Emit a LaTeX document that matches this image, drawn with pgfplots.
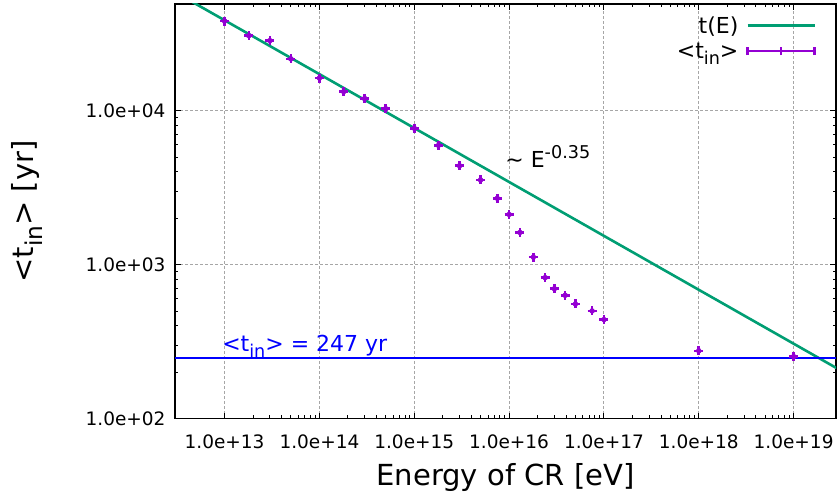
\documentclass[border=0pt]{standalone}
\usepackage{fontspec}
\setmainfont{DejaVu Sans}
\usepackage{pgfplots}
\usepackage{pgfplotstable}
\pgfplotsset{compat=1.18}
\definecolor{tgreen}{HTML}{009E73}
\definecolor{tviolet}{HTML}{9400D3}
\definecolor{tblue}{HTML}{0000FF}
\newcommand\gsub[1]{\raisebox{-0.28em}{\scalebox{0.8}{#1}}}
\newcommand\gsup[1]{\raisebox{0.42em}{\scalebox{0.8}{#1}}}

\pgfplotstableread{
E t
1e13 3.82e4
1.8e13 3.07e4
3e13 2.85e4
5e13 2.17e4
1e14 1.63e4
1.8e14 1.33e4
3e14 1.20e4
5e14 1.03e4
1e15 7.69e3
1.8e15 5.96e3
3e15 4.39e3
5e15 3.55e3
7.5e15 2.70e3
1e16 2.12e3
1.3e16 1.62e3
1.8e16 1.12e3
2.4e16 824
3e16 698
3.9e16 633
5e16 556
7.5e16 501
1e17 440
1e18 276
1e19 253
}\tintable

\begin{document}
\begin{tikzpicture}
\begin{axis}[
  xmode=log, ymode=log,
  scale only axis, width=661bp, height=414.7bp,
  xmin=3e12, xmax=2.8e19, ymin=100, ymax=4.93e4,
  xtick={1e13,1e14,1e15,1e16,1e17,1e18,1e19},
  xticklabels={1.0e+13,1.0e+14,1.0e+15,1.0e+16,1.0e+17,1.0e+18,1.0e+19},
  ytick={1e2,1e3,1e4},
  yticklabels={1.0e+02,1.0e+03,1.0e+04},
  tick label style={font=\fontsize{18.5bp}{22bp}\selectfont},
  xticklabel style={yshift=-13bp},
  yticklabel style={xshift=-6bp},
  major tick length=6bp, minor tick length=3.5bp,
  tick style={black, line width=1bp},
  axis line style={line width=1.3bp},
  grid=major,
  major grid style={gray!70, dash pattern=on 2.5bp off 2.5bp, line width=0.9bp},
  xlabel={Energy of CR [eV]},
  ylabel={<t\gsub{in}> [yr]},
  every axis x label/.style={at={(axis description cs:0.5,-0.162)}, anchor=base, font=\fontsize{29bp}{34bp}\selectfont},
  every axis y label/.style={at={(axis description cs:-0.224,0.5)}, anchor=center, rotate=90, font=\fontsize{29bp}{34bp}\selectfont},
  legend style={draw=none, fill=none, at={(axis description cs:0.9745,0.98)}, anchor=north east,
    font=\fontsize{22bp}{26bp}\selectfont, row sep=4bp, column sep=6bp},
  legend cell align=right,
  legend plot pos=right,
]
\addplot[tgreen, line width=2.6bp,
  legend image code/.code={\draw[tgreen, line width=2.6bp] (0bp,0bp) -- (67bp,0bp);}]
  coordinates {(3e12,5.89e4) (3e19,209)};
\addlegendentry{t(E)}
\addplot[only marks, mark=+, mark size=4.5bp, tviolet, line width=2.6bp,
  legend image code/.code={\draw[tviolet, line width=2.6bp] (0bp,0bp) -- (67bp,0bp) (0bp,-4bp) -- (0bp,4bp) (33.5bp,-4bp) -- (33.5bp,4bp) (67bp,-4bp) -- (67bp,4bp);}]
  table[x=E, y=t] {\tintable};
\addlegendentry{<t\gsub{in}>}
\addplot[forget plot, only marks, mark=*, mark size=2.5bp, tviolet] table[x=E, y=t] {\tintable};
\addplot[forget plot, tblue, line width=2.2bp] coordinates {(3e12,247) (2.8e19,247)};
\node[anchor=base west, inner sep=0pt, text=tblue, font=\fontsize{22bp}{26bp}\selectfont]
  at (axis cs:9.4e12,275) {<t\gsub{in}> = 247 yr};
\node[anchor=base west, inner sep=0pt, font=\fontsize{22bp}{26bp}\selectfont]
  at (axis cs:9.1e15,4266) {\char"007E\ E\gsup{-0.35}};
\end{axis}
\pgfresetboundingbox
\path[use as bounding box] ([xshift=-175bp,yshift=-78.3bp]current axis.south west) rectangle ([xshift=1bp,yshift=4bp]current axis.north east);
\end{tikzpicture}
\end{document}
